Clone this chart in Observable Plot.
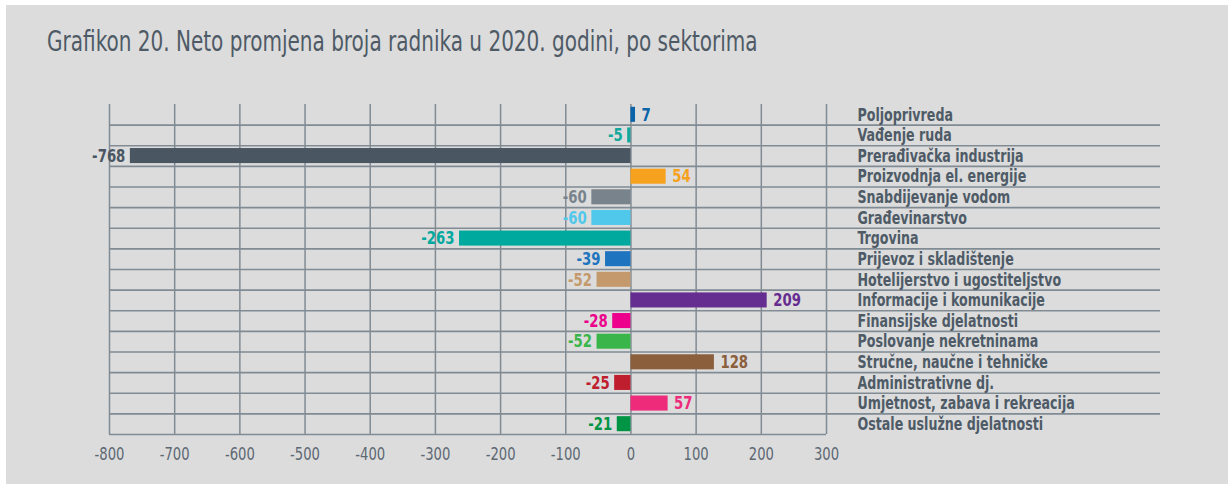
<!DOCTYPE html>
<html><head><meta charset="utf-8">
<script src="https://cdn.jsdelivr.net/npm/d3@7"></script>
<script src="https://cdn.jsdelivr.net/npm/@observablehq/plot@0.6"></script>
<style>
html,body{margin:0;padding:0;background:#ffffff;}
#panel{position:absolute;left:6px;top:5px;width:1222px;height:479px;background:#dcdcdc;overflow:hidden;}
#title{height:75px;box-sizing:border-box;padding:23px 0 0 41px;}
#title span{display:inline-block;font-family:"Liberation Sans Narrow","DejaVu Sans Condensed",sans-serif;font-size:28px;line-height:28px;color:#4e5a66;white-space:nowrap;transform:scaleX(0.795);transform-origin:0 0;}
#chart svg{display:block;}
</style></head>
<body>
<div id="panel">
  <div id="title"><span>Grafikon 20. Neto promjena broja radnika u 2020. godini, po sektorima</span></div>
  <div id="chart"></div>
</div>
<script>
const sectors = [
  "Poljoprivreda",
  "Vađenje ruda",
  "Prerađivačka industrija",
  "Proizvodnja el. energije",
  "Snabdijevanje vodom",
  "Građevinarstvo",
  "Trgovina",
  "Prijevoz i skladištenje",
  "Hotelijerstvo i ugostiteljstvo",
  "Informacije i komunikacije",
  "Finansijske djelatnosti",
  "Poslovanje nekretninama",
  "Stručne, naučne i tehničke",
  "Administrativne dj.",
  "Umjetnost, zabava i rekreacija",
  "Ostale uslužne djelatnosti"
];
const values = [7, -5, -768, 54, -60, -60, -263, -39, -52, 209, -28, -52, 128, -25, 57, -21];
const colors = [
  "#0b64a9", "#14a89c", "#4a5763", "#f6a21e", "#78838c", "#4fc8ec",
  "#00a99d", "#1f74bf", "#c49a6c", "#662d91", "#ec008c", "#3ab54a",
  "#8b5e3c", "#be1e2d", "#ee2a7b", "#009444"
];
const xTicks = [-800, -700, -600, -500, -400, -300, -200, -100, 0, 100, 200, 300];

const data = sectors.map((s, i) => ({sector: s, value: values[i], color: colors[i]}));

const font = '"Liberation Sans Narrow","DejaVu Sans Condensed",sans-serif';
const W = 1222, H = 404, mt = 24, mb = 50, ml = 103, mr = 402;
const step = (H - mt - mb) / sectors.length;
const pxPerUnit = (W - ml - mr) / (xTicks[xTicks.length - 1] - xTicks[0]);
const xExt = xTicks[xTicks.length - 1] + 334 / pxPerUnit;
const gridColor = "#818b94";

const chart = Plot.plot({
  width: W, height: H,
  marginTop: mt, marginBottom: mb, marginLeft: ml, marginRight: mr,
  style: {background: "transparent", fontFamily: font, overflow: "visible"},
  x: {domain: [xTicks[0], xTicks[xTicks.length - 1]], axis: null},
  y: {domain: sectors, paddingInner: 0.27, paddingOuter: 0.135, round: false, axis: null},
  marks: [
    Plot.ruleX(xTicks, {stroke: gridColor, strokeWidth: 1.5, strokeOpacity: 1}),
    Plot.ruleY(sectors.slice(0, -1), {y: d => d, dy: step / 2, x1: xTicks[0], x2: xExt, stroke: gridColor, strokeWidth: 1.7, strokeOpacity: 1}),
    Plot.ruleY(sectors.slice(-1), {y: d => d, dy: step / 2, x1: xTicks[0], x2: xTicks[xTicks.length - 1], stroke: gridColor, strokeWidth: 1.7, strokeOpacity: 1}),
    Plot.barX(data, {y: "sector", x: "value", fill: "color"}),
    Plot.text(data, {filter: d => d.value >= 0, y: "sector", x: "value", text: d => String(d.value), fill: "color", dx: 6, textAnchor: "start", fontSize: 18, fontWeight: "bold"}),
    Plot.text(data, {filter: d => d.value < 0, y: "sector", x: "value", text: d => String(d.value), fill: "color", dx: -5, textAnchor: "end", fontSize: 18, fontWeight: "bold"}),
    Plot.text(data, {y: "sector", x: xTicks[xTicks.length - 1], text: "sector", dx: 31, textAnchor: "start", fill: "#4e5b67", fontSize: 18, fontWeight: "bold"}),
    Plot.axisX(xTicks, {tickSize: 0, tickPadding: 13, fontSize: 17, color: "#5d6873", label: null, tickFormat: d => String(d)})
  ]
});

document.getElementById("chart").appendChild(chart);

// Condense glyphs horizontally (narrow-font substitute) using textLength
function condense(elems, f) {
  elems.forEach(el => {
    const len = el.getComputedTextLength();
    if (len > 0) {
      el.setAttribute("textLength", (len * f).toFixed(2));
      el.setAttribute("lengthAdjust", "spacingAndGlyphs");
    }
  });
}
const textGroups = chart.querySelectorAll('g[aria-label="text"]');
textGroups.forEach((g, i) => condense(g.querySelectorAll("text"), i === 2 ? 0.78 : 0.82));
condense(chart.querySelectorAll('g[aria-label="x-axis tick label"] text'), 0.86);
</script>
</body></html>
